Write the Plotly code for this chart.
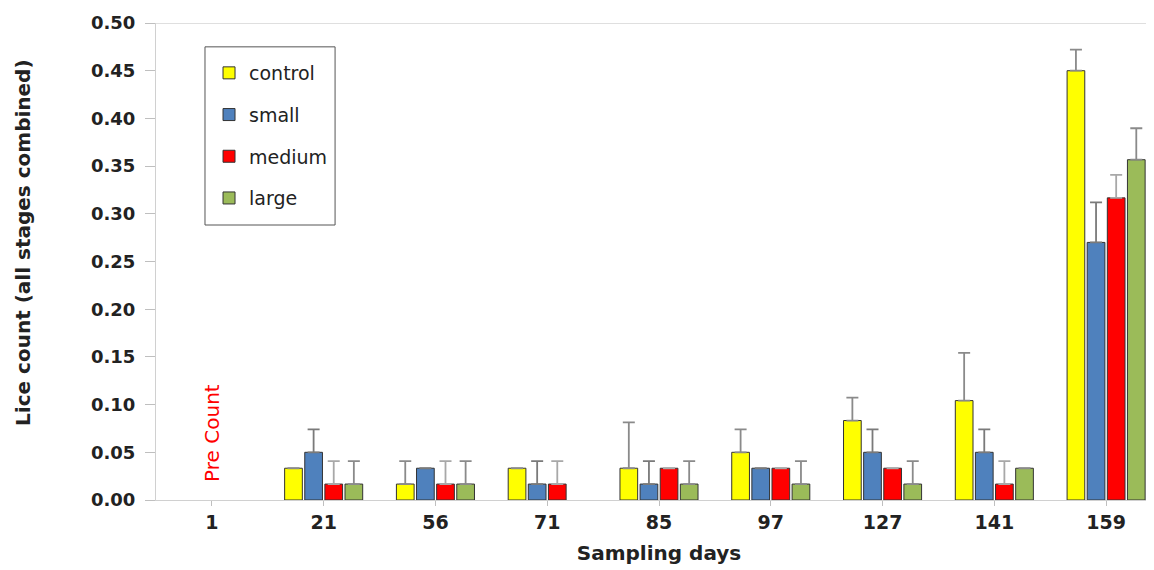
import plotly.graph_objects as go

days = ["1", "21", "56", "71", "85", "97", "127", "141", "159"]
series_names = ["control", "small", "medium", "large"]
control = [None, 0.0333, 0.0167, 0.0333, 0.0333, 0.05, 0.0833, 0.1042, 0.45]
small = [None, 0.05, 0.0333, 0.0167, 0.0167, 0.0333, 0.05, 0.05, 0.27]
medium = [None, 0.0167, 0.0167, 0.0167, 0.0333, 0.0333, 0.0333, 0.0167, 0.3167]
large = [None, 0.0167, 0.0167, None, 0.0167, 0.0167, 0.0167, 0.0333, 0.3567]
control_err = [0, 0, 0.024, 0, 0.048, 0.024, 0.024, 0.05, 0.022]
small_err = [0, 0.024, 0, 0.024, 0.024, 0, 0.024, 0.024, 0.042]
medium_err = [0, 0.024, 0.024, 0.024, 0, 0, 0, 0.024, 0.024]
large_err = [0, 0.024, 0.024, 0, 0.024, 0.024, 0.024, 0, 0.033]
colors = ["#FFFF00", "#4F81BD", "#FF0000", "#9BBB59"]
err_colors = ["#8a8a8a", "#7a7a7a", "#a8a8a8", "#8a8a8a"]

font_family = "'DejaVu Sans', Verdana, sans-serif"

fig = go.Figure()
for name, vals, errs, c, ec in zip(series_names, [control, small, medium, large],
                                   [control_err, small_err, medium_err, large_err],
                                   colors, err_colors):
    fig.add_trace(go.Bar(
        x=days, y=vals, name=name, legendgroup=name,
        marker=dict(color=c, line=dict(color="#333333", width=1)),
        error_y=dict(type="data", array=errs, symmetric=False, arrayminus=[0]*len(errs),
                     color=ec, thickness=1.8, width=6),
    ))

fig.add_annotation(x=0, y=0.0, yanchor="bottom", yshift=16, text="Pre Count", textangle=-90,
                   showarrow=False,
                   font=dict(color="#FF0000", size=20, family=font_family),
                   xref="x", yref="y")

# y-axis title as annotation (placed slightly above centre as in the reference)
fig.add_annotation(x=-0.1322, y=0.539, xref="paper", yref="paper", xanchor="center", yanchor="middle",
                   text="<b>Lice count (all stages combined)</b>", textangle=-90, showarrow=False,
                   font=dict(size=20, family=font_family, color="#222222"))

fig.add_shape(type="line", xref="paper", yref="y", x0=0, x1=1, y0=0.5, y1=0.5,
              line=dict(color="#bfbfbf", width=1))
# legend frame
fig.add_shape(type="rect", xref="paper", yref="paper", x0=0.0487, x1=0.178, y0=0.5765, y1=0.95,
              line=dict(color="#555555", width=1), fillcolor="rgba(0,0,0,0)")

fig.update_layout(
    width=1154, height=570,
    margin=dict(l=148, r=0, t=15, b=78),
    plot_bgcolor="white", paper_bgcolor="white",
    barmode="group", bargap=0.28, bargroupgap=0.12,
    font=dict(family=font_family, color="#222222"),
    legend=dict(x=0.0527, y=0.935, xanchor="left", yanchor="top",
                bgcolor="rgba(0,0,0,0)", borderwidth=0,
                font=dict(size=19, family=font_family, color="#222222"),
                tracegroupgap=14, itemwidth=30),
    showlegend=True,
)
fig.update_xaxes(
    type="category", automargin=False,
    title=dict(text="<b>Sampling days</b>", font=dict(size=20), standoff=14),
    tickfont=dict(size=19, family=font_family),
    tickprefix="<b>", ticksuffix="</b>",
    showline=True, linecolor="#d0d0d0", ticks="outside", tickcolor="#bfbfbf", ticklen=5,
    showgrid=False,
)
fig.update_yaxes(
    automargin=False,
    range=[0, 0.5], dtick=0.05, tickformat=".2f",
    tickfont=dict(size=18, family=font_family),
    tickprefix="<b>", ticksuffix="</b>",
    ticklabelstandoff=6,
    showline=True, linecolor="#d0d0d0", ticks="outside", tickcolor="#bfbfbf", ticklen=10,
    showgrid=False, zeroline=False,
)

fig.write_html("out.html")
